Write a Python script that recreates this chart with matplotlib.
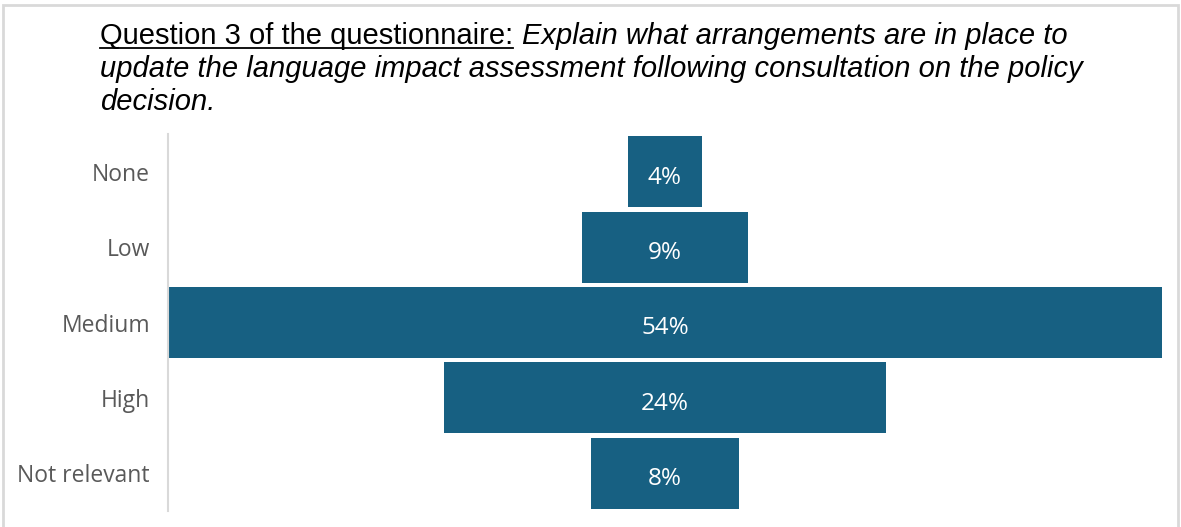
import matplotlib
matplotlib.use("Agg")
import matplotlib.pyplot as plt
import matplotlib.transforms as mtransforms
from matplotlib.patches import Rectangle

# survey answers, top to bottom
categories = ["None", "Low", "Medium", "High", "Not relevant"]
shares = [4, 9, 54, 24, 8]

W, H = 1181, 527
BAR_COLOR = "#176082"
GRID_GRAY = "#d9d9d9"
LABEL_FONT = ["Open Sans", "DejaVu Sans"]
TITLE_FONT = ["Liberation Sans", "DejaVu Sans"]

fig = plt.figure(figsize=(W / 100, H / 100), dpi=100)
fig.patch.set_facecolor("white")

# outer frame (open at the bottom)
fig.add_artist(Rectangle((3 / W, -0.05), 1175 / W, 1 - 5 / H + 0.05,
                         transform=fig.transFigure, fill=False,
                         edgecolor=GRID_GRAY, lw=2))

ax = fig.add_axes([168 / W, 1 - 511 / H, (1162 - 168) / W, (511 - 134) / H])
top = max(shares)
ypos = range(len(categories))
# nudge labels a few pixels down so they sit optically centred
nudge = mtransforms.ScaledTranslation(0, -3 / 100, fig.dpi_scale_trans)

# centred bars: each bar sits in the middle of the widest one
lefts = [(top - v) / 2 for v in shares]
ax.barh(ypos, shares, left=lefts, height=0.94, color=BAR_COLOR)
for y, v, l in zip(ypos, shares, lefts):
    ax.text(l + v / 2, y, f"{v}%", ha="center", va="center_baseline",
            color="white", fontsize=17.5, family=LABEL_FONT,
            transform=ax.transData + nudge)

ax.set_xlim(0, top)
ax.set_ylim(len(categories) - 0.5, -0.5)
ax.set_yticks(list(ypos))
ax.set_yticklabels(categories, family=LABEL_FONT, fontsize=16.5, color="#595959",
                   va="center_baseline")
for lab in ax.get_yticklabels():
    lab.set_transform(lab.get_transform() + nudge)
ax.tick_params(axis="y", length=0, pad=13)
ax.set_xticks([])
for s in ["top", "right", "bottom"]:
    ax.spines[s].set_visible(False)
ax.spines["left"].set_color(GRID_GRAY)
ax.spines["left"].set_linewidth(1.5)

# title: underlined lead-in followed by the question in italics
renderer = fig.canvas.get_renderer()
x0 = 100
lead = "Question 3 of the questionnaire:"
question_lines = ["Explain what arrangements are in place to",
                  "update the language impact assessment following consultation on the policy",
                  "decision."]
baselines = [44, 77, 110]
tsize = 21

t = fig.text(x0 / W, 1 - baselines[0] / H, lead, family=TITLE_FONT,
             fontsize=tsize, va="baseline", ha="left", color="black")
bb = t.get_window_extent(renderer)
fig.add_artist(plt.Line2D([bb.x0 / W, bb.x1 / W],
                          [1 - 48 / H, 1 - 48 / H],
                          transform=fig.transFigure, color="black", lw=1.3))
fig.text((bb.x1 + 9) / W, 1 - baselines[0] / H, question_lines[0],
         family=TITLE_FONT, fontsize=tsize, style="italic",
         va="baseline", ha="left", color="black")
for line, b in zip(question_lines[1:], baselines[1:]):
    fig.text(x0 / W, 1 - b / H, line, family=TITLE_FONT, fontsize=tsize,
             style="italic", va="baseline", ha="left", color="black")

fig.savefig("out.png", dpi=100, facecolor="white")
